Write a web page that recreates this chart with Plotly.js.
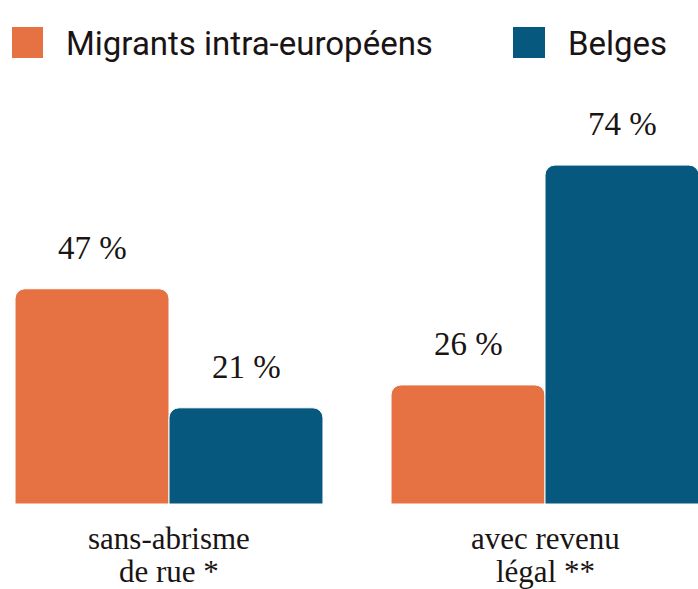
<!DOCTYPE html>
<html>
<head>
<meta charset="utf-8">
<script src="https://cdn.plot.ly/plotly-3.0.1.min.js"></script>
<style>
  html, body { margin: 0; padding: 0; background: #ffffff; }
  #chart { width: 698px; height: 589px; }
</style>
</head>
<body>
<div id="chart"></div>
<script>
// ---- data ----
const categories = ["sans-abrisme de rue *", "avec revenu légal **"];
const categoryLines = [["sans-abrisme", "de rue *"], ["avec revenu", "légal **"]];
const seriesNames = ["Migrants intra-européens", "Belges"];
const migrantsValues = [47, 26];
const belgesValues = [21, 74];
const valueLabels = [["47 %", "26 %"], ["21 %", "74 %"]];

// ---- style ----
const colors = ["#E67243", "#07587F"];
const textColor = "#1a1414";
const serif = "Liberation Serif, Times New Roman, serif";
const sans = "Roboto, Arial, sans-serif";

const W = 698, H = 589;
const mt = 60, mb = 85;
const plotH = H - mt - mb;
const pxPerUnit = 4.58;
const yMax = plotH / pxPerUnit;
const groupSpacing = 376;
const r0 = -169 / groupSpacing;
const r1 = r0 + W / groupSpacing;
const barShift = 77;

const allValues = [migrantsValues, belgesValues];

const traces = allValues.map((vals, i) => ({
  type: "bar",
  name: seriesNames[i],
  x: categories,
  y: vals,
  marker: { color: colors[i], line: { color: "#ffffff", width: 1 } },
  hoverinfo: "none",
  showlegend: false
}));

const annotations = [];
// value labels above bars
allValues.forEach((vals, i) => {
  vals.forEach((v, j) => {
    annotations.push({
      x: categories[j], y: v, xref: "x", yref: "y",
      xshift: (i === 0 ? -1 : 1) * barShift, yshift: 41,
      text: valueLabels[i][j], showarrow: false,
      xanchor: "center", yanchor: "middle",
      font: { family: serif, size: 33, color: textColor }
    });
  });
});
// category labels (two lines)
const lineY = [(504 - 538) / plotH, (504 - 571) / plotH];
categoryLines.forEach((lines, j) => {
  lines.forEach((t, k) => {
    annotations.push({
      x: categories[j], y: lineY[k], xref: "x", yref: "paper",
      text: t, showarrow: false, xanchor: "center", yanchor: "middle",
      borderpad: 0,
      font: { family: serif, size: 31, color: textColor }
    });
  });
});
// legend
const py = p => (504 - p) / plotH;
const legendSquares = [[12, 43], [513, 545]];
const legendTextX = [66, 568];
const shapes = [];
seriesNames.forEach((name, i) => {
  shapes.push({
    type: "rect", xref: "paper", yref: "paper",
    x0: legendSquares[i][0] / W, x1: legendSquares[i][1] / W,
    y0: py(58), y1: py(27),
    fillcolor: colors[i], line: { width: 0 }
  });
  annotations.push({
    x: legendTextX[i] / W - 0.003, y: py(43), xref: "paper", yref: "paper",
    text: name, showarrow: false, xanchor: "left", yanchor: "middle",
    font: { family: sans, size: 33, color: textColor }
  });
});

const layout = {
  width: W, height: H,
  margin: { l: 0, r: 0, t: mt, b: mb, pad: 0 },
  paper_bgcolor: "#ffffff", plot_bgcolor: "#ffffff",
  barmode: "group",
  bargap: 0.181,
  bargroupgap: 0,
  barcornerradius: 10,
  xaxis: {
    type: "category", range: [r0, r1], showticklabels: false,
    showgrid: false, zeroline: false, showline: false, ticks: "", fixedrange: true
  },
  yaxis: {
    range: [0, yMax], showticklabels: false, showgrid: false,
    zeroline: false, showline: false, ticks: "", fixedrange: true
  },
  annotations: annotations,
  shapes: shapes,
  showlegend: false
};

Plotly.newPlot("chart", traces, layout, { displayModeBar: false, staticPlot: true });
</script>
</body>
</html>
